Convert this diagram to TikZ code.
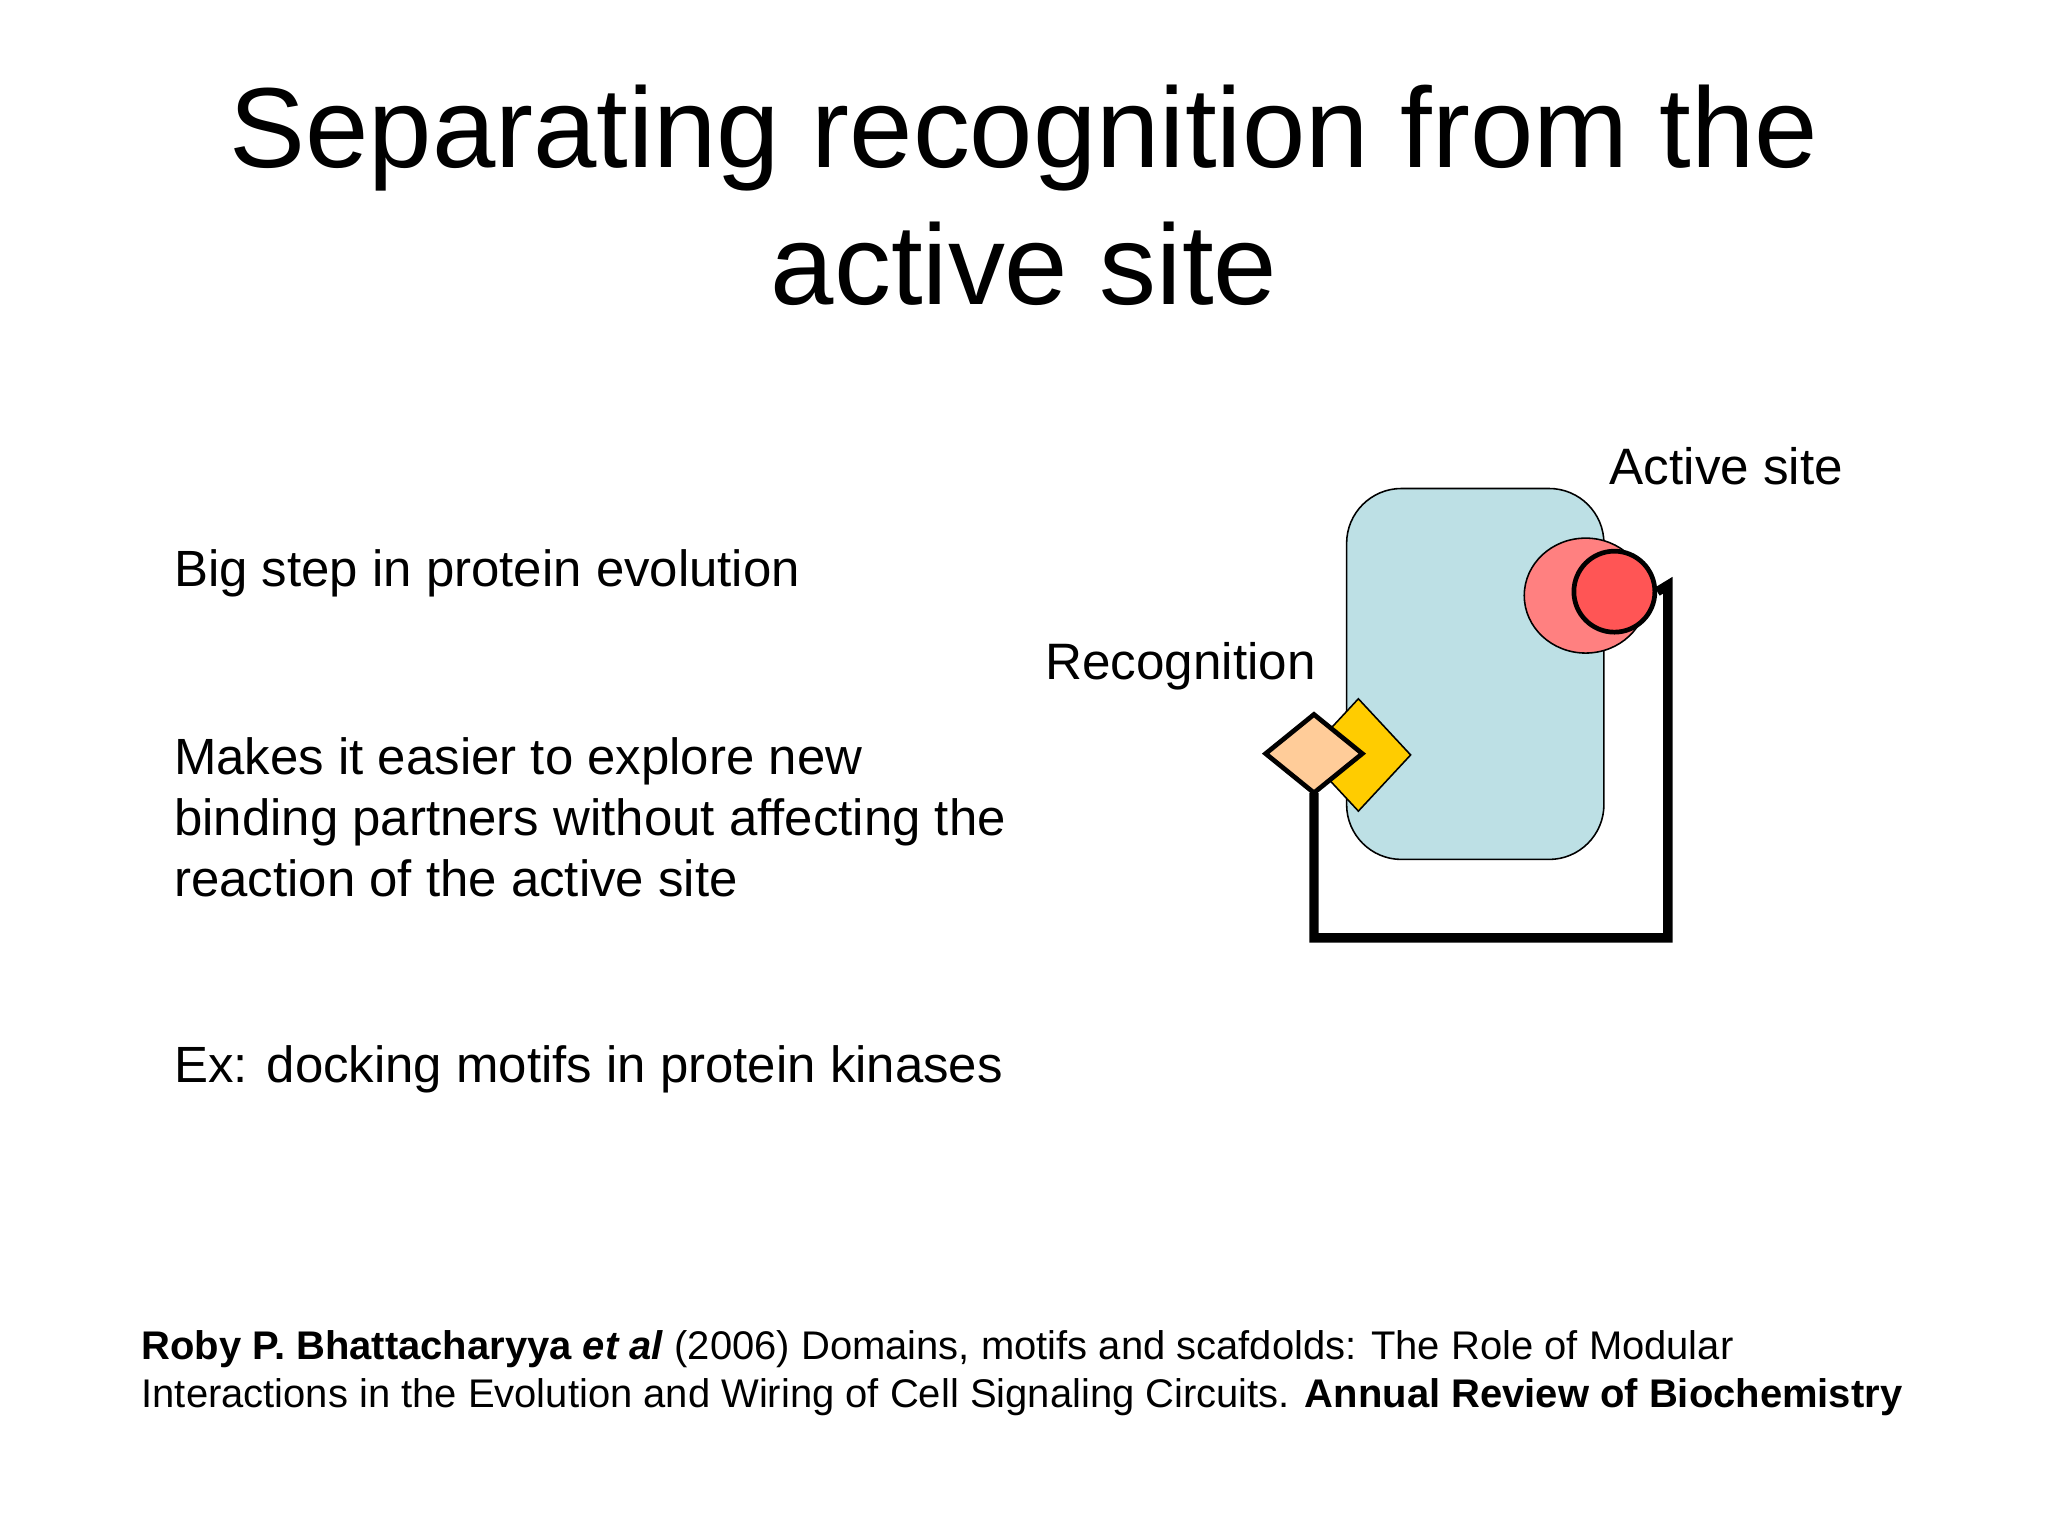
\documentclass[tikz,border=0pt]{standalone}
\usepackage{fontspec}
\usetikzlibrary{shapes.geometric}
\setmainfont{Liberation Sans}
\begin{document}
\begin{tikzpicture}[x=0.5pt,y=-0.5pt,
  txt/.style={anchor=base west,inner sep=0,font=\fontsize{19.5}{23.5}\selectfont},
  lab/.style={anchor=base west,inner sep=0,font=\fontsize{19.6}{23}\selectfont},
  cite/.style={anchor=base west,inner sep=0,font=\fontsize{15.3}{18.5}\selectfont,align=left},
  thin/.style={draw=black,line width=0.6pt},
  thick/.style={draw=black,line width=1.8pt},
  link/.style={line width=3.6pt}]
\useasboundingbox (0,0) rectangle (1568,1176);
\node[anchor=base,inner sep=0,font=\fontsize{43.6}{53}\selectfont] (t1) at (784,128) {Separating recognition from the};
\node[anchor=base,inner sep=0,font=\fontsize{43.6}{53}\selectfont] (t2) at (784,233) {active site};
\node[txt] (b1) at (133,449) {Big step in protein evolution};
\node[txt,align=left,anchor=north west] (b2) at (133,564) {Makes it easier to explore new\\binding partners without affecting the\\reaction of the active site};
\node[txt] (b3) at (133,829) {Ex: docking motifs in protein kinases};
\node[lab] (as) at (1232,371) {Active site};
\node[lab] (rec) at (800,520) {Recognition};
\node[cite,anchor=north west] (c) at (108,1018) {\textbf{Roby P. Bhattacharyya \textit{et al}} (2006) Domains, motifs and scafdolds: The Role of Modular\\Interactions in the Evolution and Wiring of Cell Signaling Circuits. \textbf{Annual Review of Biochemistry}};
% protein body
\filldraw[thin,fill={rgb,255:red,189;green,224;blue,229}] (1031,374) [rounded corners=21pt] rectangle (1228,658);
\node[thin,ellipse,fill={rgb,255:red,255;green,128;blue,128},minimum width=47pt,minimum height=44pt,inner sep=0] (big) at (1214,456) {};
\node[thick,circle,fill={rgb,255:red,255;green,85;blue,85},minimum size=31pt,inner sep=0] (act) at (1236,453) {};
\filldraw[thin,fill={rgb,255:red,255;green,204;blue,0}] (1040,535) -- (1080,578) -- (1040,621) -- (1000,578) -- cycle;
\filldraw[thick,fill={rgb,255:red,255;green,204;blue,153}] (1006,547) -- (1043,577) -- (1006,607) -- (969,577) -- cycle;
\coordinate (p0) at (1006,607);
\coordinate (p1) at (1006,718);
\coordinate (p2) at (1277,718);
\coordinate (p3) at (1277,448);
\draw[link] (p0) -- (p1) -- (p2) -- (p3) -- (act.east);
\end{tikzpicture}
\end{document}
